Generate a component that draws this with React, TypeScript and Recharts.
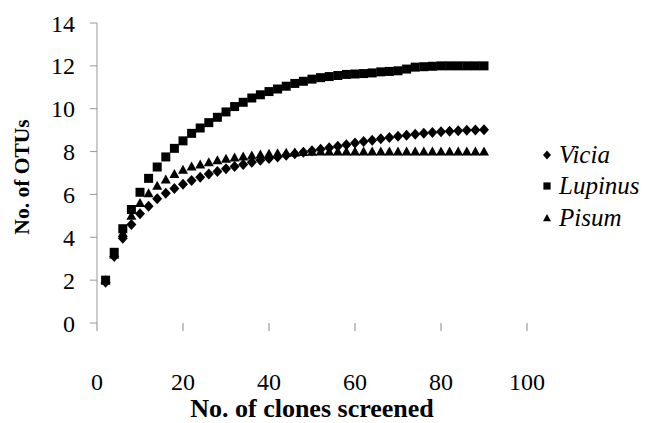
import React from 'react';
import { ScatterChart, Scatter, XAxis, YAxis, Legend } from 'recharts';

const clones = [2, 4, 6, 8, 10, 12, 14, 16, 18, 20, 22, 24, 26, 28, 30, 32, 34, 36, 38, 40, 42, 44, 46, 48, 50, 52, 54, 56, 58, 60, 62, 64, 66, 68, 70, 72, 74, 76, 78, 80, 82, 84, 86, 88, 90];
const vicia = [1.9, 3.1, 3.95, 4.6, 5.1, 5.45, 5.8, 6.05, 6.28, 6.48, 6.65, 6.8, 6.95, 7.07, 7.2, 7.3, 7.4, 7.5, 7.6, 7.68, 7.75, 7.83, 7.9, 7.97, 8.04, 8.11, 8.18, 8.25, 8.32, 8.4, 8.47, 8.53, 8.6, 8.66, 8.71, 8.76, 8.81, 8.85, 8.89, 8.92, 8.95, 8.97, 8.99, 9.01, 9.02];
const lupinus = [2.0, 3.3, 4.4, 5.3, 6.1, 6.75, 7.28, 7.75, 8.15, 8.5, 8.85, 9.1, 9.35, 9.6, 9.85, 10.1, 10.3, 10.5, 10.65, 10.8, 10.92, 11.05, 11.18, 11.28, 11.38, 11.45, 11.5, 11.55, 11.6, 11.62, 11.64, 11.67, 11.72, 11.74, 11.77, 11.85, 11.94, 11.96, 11.98, 12, 12, 12, 12, 12, 12];
const pisum = [2.0, 3.2, 4.2, 5.0, 5.6, 6.05, 6.4, 6.7, 6.95, 7.15, 7.3, 7.4, 7.5, 7.6, 7.66, 7.72, 7.77, 7.82, 7.86, 7.9, 7.92, 7.94, 7.96, 7.98, 7.99, 8, 8, 8, 8, 8, 8, 8, 8, 8, 8, 8, 8, 8, 8, 8, 8, 8, 8, 8, 8];
const xTicks = [0, 20, 40, 60, 80, 100];
const yTicks = [0, 2, 4, 6, 8, 10, 12, 14];

const toRows = (ys: number[]) => clones.map((x, i) => ({ x, y: ys[i] }));

const FONT = "'Liberation Serif', serif";

const markerPath = (type: string, cx: number, cy: number, s = 1) => {
  if (type === 'diamond') return `M${cx},${cy - 5.5 * s}L${cx + 5 * s},${cy}L${cx},${cy + 5.5 * s}L${cx - 5 * s},${cy}Z`;
  if (type === 'square') return `M${cx - 4.5 * s},${cy - 4.5 * s}h${9 * s}v${9 * s}h${-9 * s}Z`;
  return `M${cx},${cy - 5 * s}L${cx + 5 * s},${cy + 4 * s}L${cx - 5 * s},${cy + 4 * s}Z`;
};

const makeShape = (type: string) => (props: any) => (
  <path d={markerPath(type, props.cx, props.cy)} fill="#000" />
);

const series = [
  { name: 'Vicia', type: 'diamond', data: toRows(vicia) },
  { name: 'Lupinus', type: 'square', data: toRows(lupinus) },
  { name: 'Pisum', type: 'triangle', data: toRows(pisum) },
];

const renderLegend = () => (
  <div style={{ fontFamily: FONT, fontStyle: 'italic', fontSize: 25, color: '#000' }}>
    {series.map((s) => (
      <div key={s.name} style={{ height: 31.5, display: 'flex', alignItems: 'center' }}>
        <svg width={14} height={14} style={{ marginRight: 5 }}>
          <path d={markerPath(s.type, 7, 7, 0.8)} fill="#000" />
        </svg>
        <span style={{ fontFamily: FONT }}>{s.name}</span>
      </div>
    ))}
  </div>
);

const YTitle = () => (
  <text x={22} y={177} transform="rotate(-90 22 177)" textAnchor="middle" dominantBaseline="central"
    fontFamily={FONT} fontWeight="bold" fontSize={21.5} fill="#000">
    No. of OTUs
  </text>
);

const tickStyle = { fill: '#000', fontSize: 24, fontFamily: FONT, style: { fontFamily: FONT } };

const App = () => (
  <div style={{ position: 'absolute', left: 0, top: 0, background: '#fff', fontFamily: FONT }}>
    <ScatterChart width={655} height={423} margin={{ top: 23, right: 128, bottom: 0, left: 12 }} style={{ fontFamily: FONT }}>
      <XAxis
        type="number"
        dataKey="x"
        domain={[0, 100]}
        ticks={xTicks}
        axisLine={false}
        tickLine={{ stroke: '#888' }}
        tickSize={8}
        tickMargin={42}
        height={100}
        tick={tickStyle}
        label={{ value: 'No. of clones screened', position: 'insideBottom', offset: 6, fontFamily: FONT, fontWeight: 'bold', fontSize: 26, fill: '#000' }}
      />
      <YAxis
        type="number"
        dataKey="y"
        domain={[0, 14]}
        ticks={yTicks}
        axisLine={{ stroke: '#999' }}
        tickLine={{ stroke: '#999' }}
        tickSize={7}
        tickMargin={15}
        width={85}
        tick={tickStyle}
        label={{ content: () => <YTitle /> }}
      />
      <Legend
        layout="vertical"
        align="center"
        verticalAlign="middle"
        content={renderLegend}
        wrapperStyle={{ left: 540, top: 139, width: 115 }}
      />
      {series.map((s) => (
        <Scatter key={s.name} name={s.name} data={s.data} shape={makeShape(s.type)} isAnimationActive={false} />
      ))}
    </ScatterChart>
  </div>
);

export default App;
